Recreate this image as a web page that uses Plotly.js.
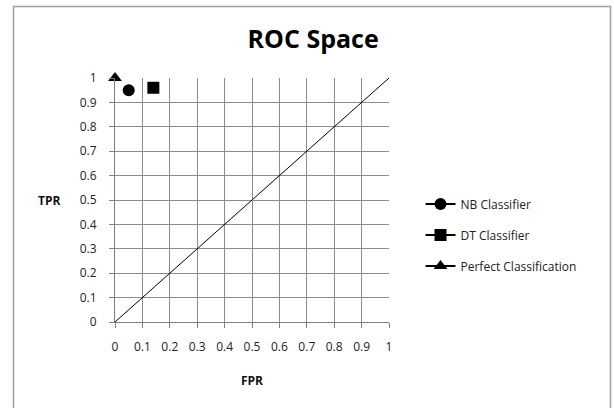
<!DOCTYPE html>
<html>
<head>
<meta charset="utf-8">
<script src="https://cdn.plot.ly/plotly-3.0.1.min.js"></script>
<style>
html,body{margin:0;padding:0;background:#fff;}
#chart{width:614px;height:408px;}
</style>
</head>
<body>
<div id="chart"></div>
<script>
// Data
const seriesNames = ["NB Classifier", "DT Classifier", "Perfect Classification"];
const seriesFPR = [[0.05], [0.14], [0]];
const seriesTPR = [[0.95], [0.96], [1]];
const seriesSymbols = ["circle", "square", "triangle-up"];
const diagonalX = [0, 1];
const diagonalY = [0, 1];
const tickVals = [0, 0.1, 0.2, 0.3, 0.4, 0.5, 0.6, 0.7, 0.8, 0.9, 1];
const tickText = ["0", "0.1", "0.2", "0.3", "0.4", "0.5", "0.6", "0.7", "0.8", "0.9", "1"];

const FONT = "Open Sans, Lato, sans-serif";

const traces = [{
  x: diagonalX, y: diagonalY, mode: "lines",
  line: {color: "#000", width: 1}, showlegend: false, hoverinfo: "skip"
}];
seriesNames.forEach((n, i) => {
  traces.push({
    x: seriesFPR[i], y: seriesTPR[i], name: n, mode: "lines+markers",
    legendgroup: "g" + i,
    marker: {symbol: seriesSymbols[i], size: 12, color: "#000"},
    line: {color: "#000", width: 2},
    cliponaxis: false
  });
});

const axisCommon = {
  range: [0, 1], tickvals: tickVals, ticktext: tickText,
  showgrid: true, gridcolor: "#8c8c8c", gridwidth: 1,
  showline: true, linecolor: "#7f7f7f", linewidth: 1,
  ticks: "outside", ticklen: 5, tickcolor: "#7f7f7f",
  zeroline: false, fixedrange: true,
  tickfont: {family: FONT, size: 12, color: "#222"}
};

const layout = {
  width: 614, height: 408,
  margin: {l: 115, r: 225, t: 78, b: 86},
  paper_bgcolor: "#fff", plot_bgcolor: "#fff",
  title: {text: "<b>ROC Space</b>", x: 0.51, xref: "container", xanchor: "center",
          y: 39, yref: "container", yanchor: "middle",
          font: {family: FONT, size: 25, color: "#000"}},
  xaxis: Object.assign({}, axisCommon, {ticklabelstandoff: 9, mirror: false}),
  yaxis: Object.assign({}, axisCommon, {ticklabelstandoff: 10}),
  showlegend: true,
  legend: {x: 1.115, xanchor: "left", y: 0.357, yanchor: "middle",
           font: {family: FONT, size: 12, color: "#222"},
           traceorder: "grouped", tracegroupgap: 12, itemwidth: 30,
           bgcolor: "rgba(0,0,0,0)"},
  annotations: [
    {text: "<b>TPR</b>", xref: "paper", yref: "paper", x: -0.24, y: 0.5,
     xanchor: "center", yanchor: "middle", showarrow: false,
     font: {family: FONT, size: 12, color: "#111"}},
    {text: "<b>FPR</b>", xref: "paper", yref: "paper", x: 0.5, y: -0.24,
     xanchor: "center", yanchor: "middle", showarrow: false,
     font: {family: FONT, size: 12, color: "#111"}}
  ],
  shapes: [
    {type: "rect", xref: "paper", yref: "paper",
     x0: (13.5 - 115) / 274, x1: (610.5 - 115) / 274,
     y0: (322 - 420) / 244, y1: (322 - 6.5) / 244,
     line: {color: "#a0a0a0", width: 1.5}, fillcolor: "rgba(0,0,0,0)", layer: "below"}
  ]
};

Plotly.newPlot("chart", traces, layout, {staticPlot: true, displayModeBar: false});
</script>
</body>
</html>
